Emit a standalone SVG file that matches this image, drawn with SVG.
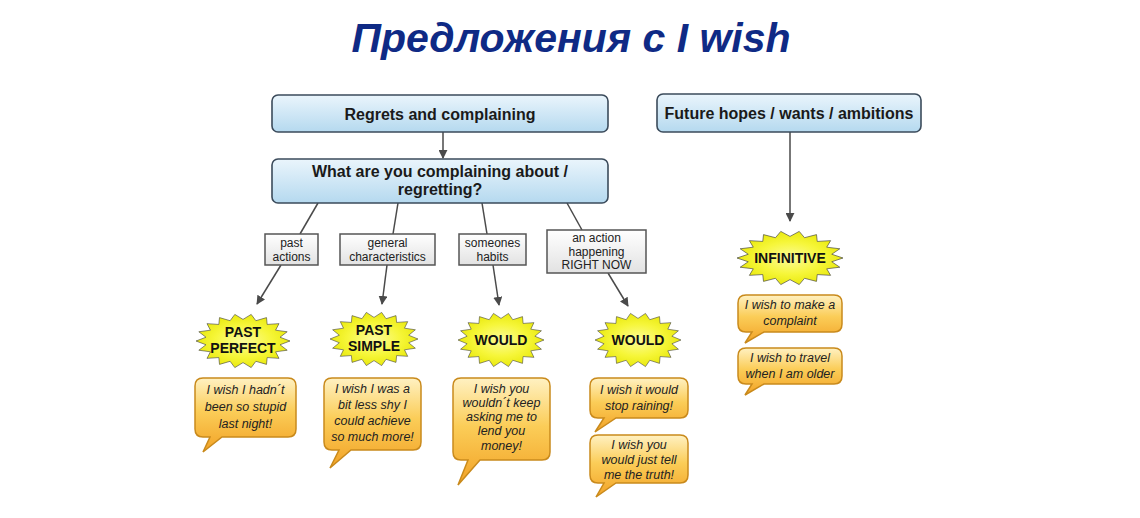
<svg xmlns="http://www.w3.org/2000/svg" xmlns:xlink="http://www.w3.org/1999/xlink" width="1140" height="518" viewBox="0 0 1140 518">
<defs>
<linearGradient id="gBlue" x1="0" y1="0" x2="0" y2="1"><stop offset="0" stop-color="#eaf5fc"/><stop offset="1" stop-color="#b5d9ef"/></linearGradient>
<linearGradient id="gGrey" x1="0" y1="0" x2="0" y2="1"><stop offset="0" stop-color="#ffffff"/><stop offset="1" stop-color="#e2e2e2"/></linearGradient>
<linearGradient id="gOrange" x1="0" y1="0" x2="0" y2="1"><stop offset="0" stop-color="#fff1c2"/><stop offset="0.45" stop-color="#fbcd58"/><stop offset="1" stop-color="#f2a226"/></linearGradient>
<radialGradient id="gYellow" cx="0.5" cy="0.5" r="0.5"><stop offset="0" stop-color="#fbfb9a"/><stop offset="0.6" stop-color="#f6f63a"/><stop offset="1" stop-color="#eaea10"/></radialGradient>
<marker id="arr" viewBox="0 0 10 10" refX="9" refY="5" markerWidth="9" markerHeight="9" markerUnits="userSpaceOnUse" orient="auto"><path d="M0,0 L10,5 L0,10 Z" fill="#4a4a4a"/></marker>
<polygon id="star" points="100,0 78.8,13.9 94,34.2 69.3,40 76.6,64.3 51.4,61.3 50,86.6 27.4,75.2 17.4,98.5 0,80 -17.4,98.5 -27.4,75.2 -50,86.6 -51.4,61.3 -76.6,64.3 -69.3,40 -94,34.2 -78.8,13.9 -100,0 -78.8,-13.9 -94,-34.2 -69.3,-40 -76.6,-64.3 -51.4,-61.3 -50,-86.6 -27.4,-75.2 -17.4,-98.5 0,-80 17.4,-98.5 27.4,-75.2 50,-86.6 51.4,-61.3 76.6,-64.3 69.3,-40 94,-34.2 78.8,-13.9"/>
</defs>
<style>
.hdr{fill:url(#gBlue);stroke:#3b4b5b;stroke-width:1.6}
.hdrt{font-family:"Liberation Sans",Arial,sans-serif;font-weight:bold;font-size:16px;fill:#1a1a1a;text-anchor:middle}
.lbl{fill:url(#gGrey);stroke:#555;stroke-width:1.5}
.lblt{font-family:"Liberation Sans",Arial,sans-serif;font-size:12px;fill:#222;text-anchor:middle}
.conn{stroke:#4a4a4a;stroke-width:1.5;fill:none}
.burst{fill:url(#gYellow);stroke:#3a3a3a;stroke-width:1.6;vector-effect:non-scaling-stroke}
.burstt{font-family:"Liberation Sans",Arial,sans-serif;font-weight:bold;font-size:14px;fill:#111;text-anchor:middle}
.bub{fill:url(#gOrange);stroke:#c98a1c;stroke-width:1.5}
.bubt{font-family:"Liberation Sans",Arial,sans-serif;font-style:italic;font-size:12.5px;fill:#222;text-anchor:middle}
.title{font-family:"Liberation Sans",Arial,sans-serif;font-weight:bold;font-style:italic;font-size:41px;fill:#0f2a85;text-anchor:middle}
</style>
<rect width="1140" height="518" fill="#ffffff"/>
<text class="title" x="571" y="52">Предложения с I wish</text>

<g id="connectors">
<line class="conn" x1="443" y1="132" x2="443" y2="158" marker-end="url(#arr)"/>
<line class="conn" x1="790" y1="132" x2="790" y2="221" marker-end="url(#arr)"/>
<line class="conn" x1="318" y1="203" x2="300" y2="234"/>
<line class="conn" x1="281" y1="265" x2="257" y2="304" marker-end="url(#arr)"/>
<line class="conn" x1="398" y1="203" x2="393" y2="234"/>
<line class="conn" x1="387" y1="265" x2="382" y2="304" marker-end="url(#arr)"/>
<line class="conn" x1="482" y1="203" x2="487" y2="234"/>
<line class="conn" x1="493" y1="265" x2="499" y2="305" marker-end="url(#arr)"/>
<line class="conn" x1="567" y1="203" x2="582" y2="230"/>
<line class="conn" x1="608" y1="273" x2="628" y2="306" marker-end="url(#arr)"/>
</g>

<g id="n-regrets"><rect class="hdr" x="272" y="95" width="336" height="37" rx="6"/><text class="hdrt" x="440" y="120">Regrets and complaining</text></g>
<g id="n-what"><rect class="hdr" x="272" y="159" width="336" height="44" rx="6"/><text class="hdrt" x="440" y="177">What are you complaining about /</text><text class="hdrt" x="440" y="195">regretting?</text></g>
<g id="n-future"><rect class="hdr" x="657" y="94" width="264" height="38" rx="6"/><text class="hdrt" x="789" y="119">Future hopes / wants / ambitions</text></g>

<g id="l-past"><rect class="lbl" x="265" y="234" width="53" height="31"/><text class="lblt" x="291.5" y="247">past</text><text class="lblt" x="291.5" y="261">actions</text></g>
<g id="l-general"><rect class="lbl" x="340" y="234" width="95" height="31"/><text class="lblt" x="387.5" y="247">general</text><text class="lblt" x="387.5" y="261">characteristics</text></g>
<g id="l-habits"><rect class="lbl" x="459" y="234" width="67" height="31"/><text class="lblt" x="492.5" y="247">someones</text><text class="lblt" x="492.5" y="261">habits</text></g>
<g id="l-now"><rect class="lbl" x="547" y="230" width="99" height="43"/><text class="lblt" x="596.5" y="242">an action</text><text class="lblt" x="596.5" y="256">happening</text><text class="lblt" x="596.5" y="269">RIGHT NOW</text></g>

<g id="s-pastperfect"><use href="#star" xlink:href="#star" class="burst" transform="translate(243,341) scale(0.47,0.27)"/><text class="burstt" x="243" y="337">PAST</text><text class="burstt" x="243" y="353">PERFECT</text></g>
<g id="s-pastsimple"><use href="#star" xlink:href="#star" class="burst" transform="translate(374,339) scale(0.44,0.27)"/><text class="burstt" x="374" y="335">PAST</text><text class="burstt" x="374" y="351">SIMPLE</text></g>
<g id="s-would1"><use href="#star" xlink:href="#star" class="burst" transform="translate(501,340) scale(0.43,0.27)"/><text class="burstt" x="501" y="345">WOULD</text></g>
<g id="s-would2"><use href="#star" xlink:href="#star" class="burst" transform="translate(638,340) scale(0.43,0.27)"/><text class="burstt" x="638" y="345">WOULD</text></g>
<g id="s-infinitive"><use href="#star" xlink:href="#star" class="burst" transform="translate(790,258) scale(0.53,0.27)"/><text class="burstt" x="790" y="263">INFINITIVE</text></g>

<g id="b1"><path class="bub" d="M203,378 H288 Q296,378 296,386 V429 Q296,437 288,437 H222 L203,452 L210,437 H203 Q195,437 195,429 V386 Q195,378 203,378 Z"/><text class="bubt" x="245.5" y="394">I wish I hadn´t</text><text class="bubt" x="245.5" y="411">been so stupid</text><text class="bubt" x="245.5" y="428">last night!</text></g>
<g id="b2"><path class="bub" d="M332,378 H413 Q421,378 421,386 V442 Q421,450 413,450 H351 L330,468 L339,450 H332 Q324,450 324,442 V386 Q324,378 332,378 Z"/><text class="bubt" x="372.5" y="393">I wish I was a</text><text class="bubt" x="372.5" y="409">bit less shy I</text><text class="bubt" x="372.5" y="425">could achieve</text><text class="bubt" x="372.5" y="441">so much more!</text></g>
<g id="b3"><path class="bub" d="M461,378 H542 Q550,378 550,386 V452 Q550,460 542,460 H480 L458,485 L468,460 H461 Q453,460 453,452 V386 Q453,378 461,378 Z"/><text class="bubt" x="501.5" y="393">I wish you</text><text class="bubt" x="501.5" y="407">wouldn´t keep</text><text class="bubt" x="501.5" y="421">asking me to</text><text class="bubt" x="501.5" y="435">lend you</text><text class="bubt" x="501.5" y="450">money!</text></g>
<g id="b4"><path class="bub" d="M598,378 H680 Q688,378 688,386 V410 Q688,418 680,418 H616 L595,432 L604,418 H598 Q590,418 590,410 V386 Q590,378 598,378 Z"/><text class="bubt" x="639" y="394">I wish it would</text><text class="bubt" x="639" y="410">stop raining!</text></g>
<g id="b5"><path class="bub" d="M598,435 H680 Q688,435 688,443 V475 Q688,483 680,483 H616 L596,497 L604,483 H598 Q590,483 590,475 V443 Q590,435 598,435 Z"/><text class="bubt" x="639" y="449">I wish you</text><text class="bubt" x="639" y="464">would just tell</text><text class="bubt" x="639" y="479">me the truth!</text></g>
<g id="b6"><path class="bub" d="M746,295 H834 Q842,295 842,303 V324 Q842,332 834,332 H764 L745,343 L752,332 H746 Q738,332 738,324 V303 Q738,295 746,295 Z"/><text class="bubt" x="790" y="309">I wish to make a</text><text class="bubt" x="790" y="325">complaint</text></g>
<g id="b7"><path class="bub" d="M746,348 H834 Q842,348 842,356 V376 Q842,384 834,384 H764 L745,395 L752,384 H746 Q738,384 738,376 V356 Q738,348 746,348 Z"/><text class="bubt" x="790" y="362">I wish to travel</text><text class="bubt" x="790" y="378">when I am older</text></g>
</svg>
